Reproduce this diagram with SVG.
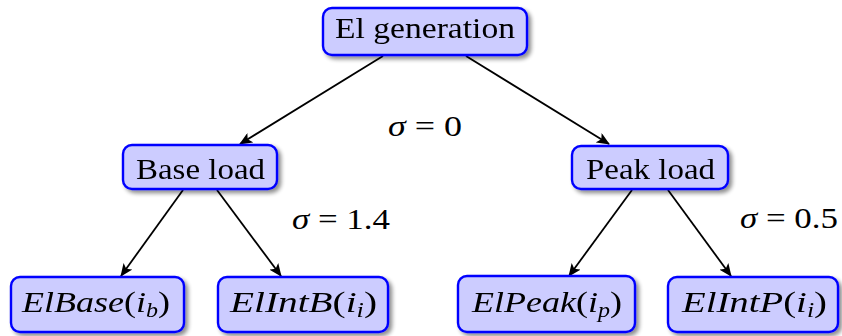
<svg xmlns="http://www.w3.org/2000/svg" width="842" height="336" viewBox="0 0 842 336">
<defs>
<filter id="sh" x="-10%" y="-20%" width="130%" height="150%">
<feGaussianBlur in="SourceAlpha" stdDeviation="2"/>
<feOffset dx="3" dy="3" result="b"/>
<feComponentTransfer><feFuncA type="linear" slope="0.45"/></feComponentTransfer>
<feMerge><feMergeNode/><feMergeNode in="SourceGraphic"/></feMerge>
</filter>
<marker id="arr" viewBox="0 0 13 11" refX="12" refY="5.5" markerWidth="13" markerHeight="11" markerUnits="userSpaceOnUse" orient="auto">
<path d="M0,0 L13,5.5 L0,11 L3,5.5 Z" fill="#000"/>
</marker>
</defs>
<style>
.box{fill:#ccccff;stroke:#0000ff;stroke-width:2.4;}
.t{font-family:"Liberation Serif","DejaVu Serif",serif;font-size:30px;fill:#000;}
.m{font-style:italic;}
.e{stroke:#000;stroke-width:1.8;fill:none;marker-end:url(#arr);}
</style>
<g id="connectors">
<line class="e" x1="383" y1="56" x2="240" y2="144"/>
<line class="e" x1="466" y1="56" x2="609" y2="144"/>
<line class="e" x1="183" y1="190" x2="121" y2="276"/>
<line class="e" x1="217" y1="190" x2="281" y2="276"/>
<line class="e" x1="632" y1="190" x2="569" y2="276"/>
<line class="e" x1="668" y1="190" x2="731" y2="276"/>
</g>
<g id="n-top" filter="url(#sh)">
<rect class="box" x="323" y="8" width="204" height="47" rx="9"/>
<text class="t" x="335" y="38" textLength="180" lengthAdjust="spacingAndGlyphs">El generation</text>
</g>
<g id="n-base" filter="url(#sh)">
<rect class="box" x="123" y="145" width="154" height="44" rx="9"/>
<text class="t" x="136" y="179" textLength="129" lengthAdjust="spacingAndGlyphs">Base load</text>
</g>
<g id="n-peak" filter="url(#sh)">
<rect class="box" x="572" y="146" width="156" height="43" rx="9"/>
<text class="t" x="586" y="179" textLength="129" lengthAdjust="spacingAndGlyphs">Peak load</text>
</g>
<g id="n-elbase" filter="url(#sh)">
<rect class="box" x="11" y="277" width="173" height="55" rx="9"/>
<text class="t" x="22" y="312" textLength="148" lengthAdjust="spacingAndGlyphs"><tspan class="m">ElBase</tspan>(<tspan class="m">i</tspan><tspan class="m" font-size="20" dy="5">b</tspan><tspan dy="-5">)</tspan></text>
</g>
<g id="n-elintb" filter="url(#sh)">
<rect class="box" x="218" y="277" width="170" height="55" rx="9"/>
<text class="t" x="230" y="312" textLength="147" lengthAdjust="spacingAndGlyphs"><tspan class="m">ElIntB</tspan>(<tspan class="m">i</tspan><tspan class="m" font-size="20" dy="5">i</tspan><tspan dy="-5">)</tspan></text>
</g>
<g id="n-elpeak" filter="url(#sh)">
<rect class="box" x="458" y="276" width="177" height="56" rx="9"/>
<text class="t" x="472" y="312" textLength="150" lengthAdjust="spacingAndGlyphs"><tspan class="m">ElPeak</tspan>(<tspan class="m">i</tspan><tspan class="m" font-size="20" dy="5">p</tspan><tspan dy="-5">)</tspan></text>
</g>
<g id="n-elintp" filter="url(#sh)">
<rect class="box" x="668" y="277" width="170" height="55" rx="9"/>
<text class="t" x="682" y="312" textLength="145" lengthAdjust="spacingAndGlyphs"><tspan class="m">ElIntP</tspan>(<tspan class="m">i</tspan><tspan class="m" font-size="20" dy="5">i</tspan><tspan dy="-5">)</tspan></text>
</g>
<g id="labels">
<text class="t" x="388" y="136" textLength="74" lengthAdjust="spacingAndGlyphs"><tspan class="m">σ</tspan> = 0</text>
<text class="t" x="292" y="229" textLength="98" lengthAdjust="spacingAndGlyphs"><tspan class="m">σ</tspan> = 1.4</text>
<text class="t" x="740" y="228" textLength="98" lengthAdjust="spacingAndGlyphs"><tspan class="m">σ</tspan> = 0.5</text>
</g>
</svg>
